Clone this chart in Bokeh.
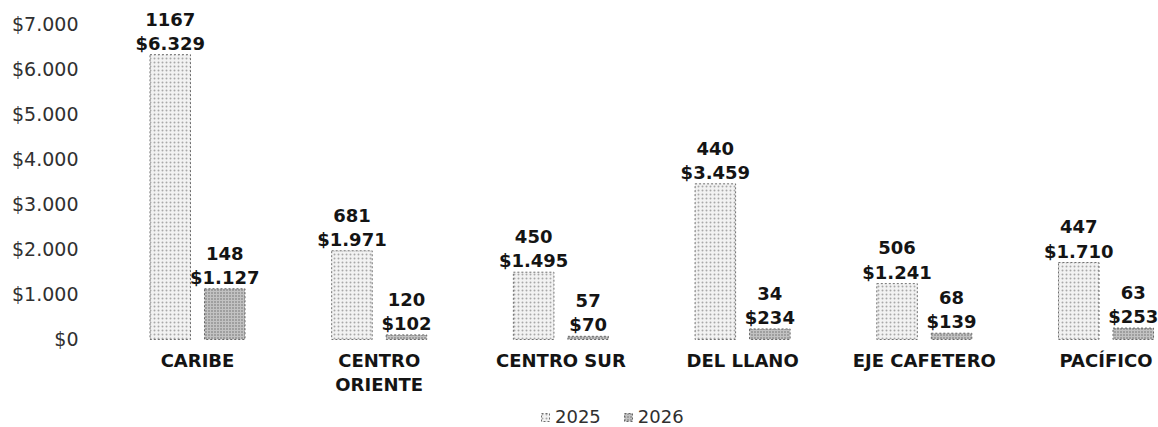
from bokeh.plotting import figure
from bokeh.models import ColumnDataSource, Range1d, FixedTicker, Legend, LegendItem
from bokeh.embed import file_html
from bokeh.resources import INLINE
from bokeh.core.properties import value

categories = ["CARIBE", "CENTRO\nORIENTE", "CENTRO SUR", "DEL LLANO", "EJE CAFETERO", "PACÍFICO"]
values_2025 = [6329, 1971, 1495, 3459, 1241, 1710]
values_2026 = [1127, 102, 70, 234, 139, 253]
counts_2025 = [1167, 681, 450, 440, 506, 447]
counts_2026 = [148, 120, 57, 34, 68, 63]
y_ticks = [0, 1000, 2000, 3000, 4000, 5000, 6000, 7000]
y_tick_labels = ["$0", "$1.000", "$2.000", "$3.000", "$4.000", "$5.000", "$6.000", "$7.000"]
series_names = ["2025", "2026"]

def money(v):
    return "$" + f"{v:,}".replace(",", ".")

idx = list(range(len(categories)))
off = 0.15
bw = 0.223

src25 = ColumnDataSource(dict(
    x=[i - off for i in idx], top=values_2025,
    label=[f"{c}\n{money(v)}" for c, v in zip(counts_2025, values_2025)]))
src26 = ColumnDataSource(dict(
    x=[i + off for i in idx], top=values_2026,
    label=[f"{c}\n{money(v)}" for c, v in zip(counts_2026, values_2026)]))
src_cat = ColumnDataSource(dict(x=idx, y=[0] * len(idx), label=categories))

p = figure(width=1158, height=427, output_backend="svg", toolbar_location=None,
           x_range=Range1d(-0.6164, 5.2889), y_range=Range1d(-1956, 7422),
           min_border_left=85, min_border_right=0, min_border_top=5, min_border_bottom=0)
p.outline_line_color = None
p.xgrid.visible = False
p.ygrid.visible = False
p.xaxis.visible = False

font = "DejaVu Sans"

r25 = p.vbar(x="x", top="top", bottom=0, width=bw, source=src25,
             fill_color="#f2f2f2", line_color="#6f6f6f", line_dash="2 2", line_width=1,
             hatch_pattern="dot", hatch_color="#a8a8a8", hatch_scale=4, hatch_weight=1)
r26 = p.vbar(x="x", top="top", bottom=0, width=bw, source=src26,
             fill_color="#c2c2c2", line_color="#666666", line_dash="2 2", line_width=1,
             hatch_pattern="dot", hatch_color="#6a6a6a", hatch_scale=3, hatch_weight=1)

for s in (src25, src26):
    p.text(x="x", y="top", text="label", source=s, text_align="center",
           text_baseline="bottom", y_offset=-1, text_font=value(font),
           text_font_size="18px", text_font_style="bold", text_color="#141414",
           text_line_height=1.15)

# category labels under the bars
p.text(x="x", y="y", text="label", source=src_cat, text_align="center",
       text_baseline="top", y_offset=11, text_font=value(font),
       text_font_size="18px", text_font_style="bold", text_color="#141414",
       text_line_height=1.1)

p.yaxis.ticker = FixedTicker(ticks=y_ticks)
p.yaxis.major_label_overrides = {t: l for t, l in zip(y_ticks, y_tick_labels)}
p.yaxis.axis_line_color = None
p.yaxis.major_tick_line_color = None
p.yaxis.minor_tick_line_color = None
p.yaxis.major_label_standoff = 1
p.yaxis.major_label_text_font = font
p.yaxis.major_label_text_font_size = "19px"
p.yaxis.major_label_text_color = "#303030"

legend = Legend(items=[LegendItem(label=series_names[0], renderers=[r25]),
                       LegendItem(label=series_names[1], renderers=[r26])],
                orientation="horizontal", location=(455, 0),
                label_text_font=font, label_text_font_size="18px",
                label_text_color="#303030", glyph_width=10, glyph_height=10,
                label_standoff=5, spacing=22, padding=0, margin=0,
                border_line_color=None, background_fill_alpha=0)
p.add_layout(legend)

open("out.html", "w").write(file_html(p, INLINE))
